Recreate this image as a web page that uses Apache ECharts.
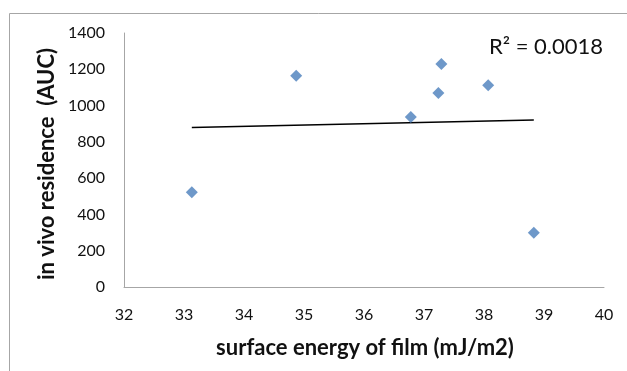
<!DOCTYPE html>
<html>
<head>
<meta charset="utf-8">
<script src="https://cdn.jsdelivr.net/npm/echarts@6/dist/echarts.min.js"></script>
<style>
html,body{margin:0;padding:0;background:#fff;}
#chart{width:627px;height:371px;}
</style>
</head>
<body>
<div id="chart"></div>
<script>
// Data
var surfaceEnergy = [33.13, 34.87, 36.78, 37.24, 37.29, 38.07, 38.83];
var residenceAUC  = [522, 1165, 937, 1069, 1229, 1112, 299];
var xTicks = [32, 33, 34, 35, 36, 37, 38, 39, 40];
var yTicks = [0, 200, 400, 600, 800, 1000, 1200, 1400];
var xTitle = 'surface energy of film (mJ/m2)';
var yTitle = 'in vivo residence  (AUC)';
var r2Label = 'R\u00B2 = 0.0018';

// Linear least-squares trendline over the data range
var n = surfaceEnergy.length;
var mx = surfaceEnergy.reduce(function(a,b){return a+b;},0)/n;
var my = residenceAUC.reduce(function(a,b){return a+b;},0)/n;
var sxy = 0, sxx = 0;
for (var i = 0; i < n; i++) {
  sxy += (surfaceEnergy[i]-mx)*(residenceAUC[i]-my);
  sxx += (surfaceEnergy[i]-mx)*(surfaceEnergy[i]-mx);
}
var slope = sxy/sxx, intercept = my - slope*mx;
var xMin = Math.min.apply(null, surfaceEnergy), xMax = Math.max.apply(null, surfaceEnergy);
var trend = [[xMin, intercept + slope*xMin], [xMax, intercept + slope*xMax]];

var font = 'Lato, "Open Sans", sans-serif';
var chart = echarts.init(document.getElementById('chart'), null, {renderer:'canvas'});
chart.setOption({
  animation: false,
  backgroundColor: '#ffffff',
  grid: {left:124, right:23, top:33, bottom:84, containLabel:false},
  xAxis: {
    type:'value', min:xTicks[0], max:xTicks[xTicks.length-1], interval:1,
    axisLine:{show:true, lineStyle:{color:'#a6a6a6', width:1}},
    axisTick:{show:false},
    splitLine:{show:false},
    axisLabel:{color:'#111111', fontSize:16, fontFamily:font, margin:20,
      formatter:function(v){return String(v);}}
  },
  yAxis: {
    type:'value', min:yTicks[0], max:yTicks[yTicks.length-1], interval:200,
    axisLine:{show:true, lineStyle:{color:'#a6a6a6', width:1}},
    axisTick:{show:false},
    splitLine:{show:false},
    axisLabel:{color:'#111111', fontSize:16, fontFamily:font, margin:19,
      formatter:function(v){return String(v);}}
  },
  series: [
    {
      type:'scatter',
      data: surfaceEnergy.map(function(x,i){return [x, residenceAUC[i]];}),
      symbol:'diamond', symbolSize:[12,12],
      itemStyle:{color:'#4a7ebb'},
      z:3
    },
    {
      type:'line',
      data: trend,
      showSymbol:false, symbol:'none',
      lineStyle:{color:'#000000', width:1.5},
      z:2
    }
  ],
  graphic: [
    {type:'rect', shape:{x:9.5, y:13.5, width:700, height:400},
     style:{fill:'none', stroke:'#a6a6a6', lineWidth:1}, silent:true},
    {type:'text', x:546, y:47,
     style:{text:r2Label, font:'22px '+font, fill:'#111111', textAlign:'center', textVerticalAlign:'middle'}},
    {type:'text', x:365, y:348,
     style:{text:xTitle, font:'bold 22px '+font, fill:'#111111', textAlign:'center', textVerticalAlign:'middle'}},
    {type:'text', x:47, y:164, rotation:Math.PI/2,
     style:{text:yTitle, font:'bold 22px '+font, fill:'#111111', textAlign:'center', textVerticalAlign:'middle'}}
  ]
});
</script>
</body>
</html>
